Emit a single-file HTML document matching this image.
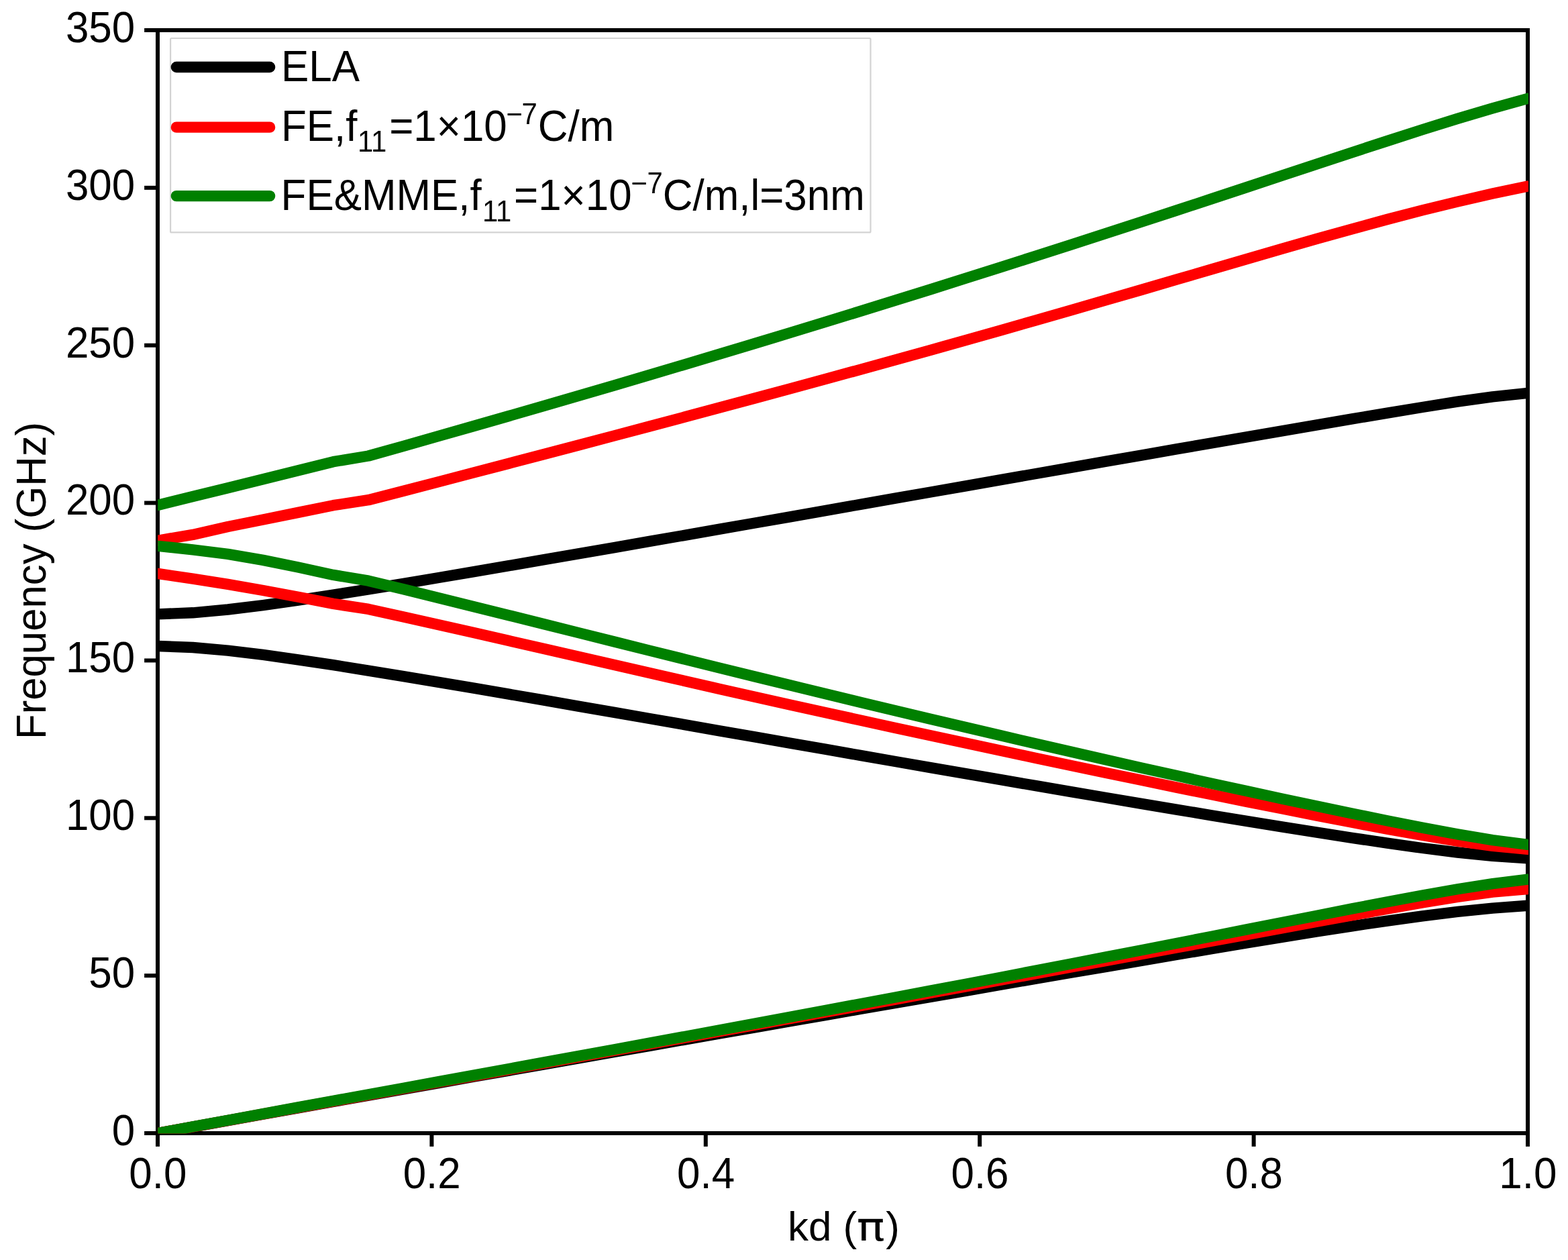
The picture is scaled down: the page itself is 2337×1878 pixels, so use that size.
<!DOCTYPE html>
<html lang="en"><head><meta charset="utf-8"><title>Dispersion curves: frequency versus kd</title>
<style>html,body{margin:0;padding:0;background:#fff;}body{width:2337px;height:1878px;overflow:hidden;}svg{display:block;}text{font-family:'Liberation Sans', Arial, Helvetica, sans-serif;fill:#000;}</style>
</head><body>
<svg width="2337" height="1878" viewBox="0 0 2337 1878">
<rect width="2337" height="1878" fill="#ffffff"/>
<defs><clipPath id="ax"><rect x="235.2" y="45" width="2042.8" height="1644.4"/></clipPath></defs>
<g stroke="#000" stroke-width="6" fill="none">
<line x1="235.00" y1="1689" x2="235.00" y2="1708.9"/>
<line x1="643.40" y1="1689" x2="643.40" y2="1708.9"/>
<line x1="1051.80" y1="1689" x2="1051.80" y2="1708.9"/>
<line x1="1460.20" y1="1689" x2="1460.20" y2="1708.9"/>
<line x1="1868.60" y1="1689" x2="1868.60" y2="1708.9"/>
<line x1="2277.00" y1="1689" x2="2277.00" y2="1708.9"/>
<line x1="215.1" y1="1689.00" x2="235" y2="1689.00"/>
<line x1="215.1" y1="1454.14" x2="235" y2="1454.14"/>
<line x1="215.1" y1="1219.29" x2="235" y2="1219.29"/>
<line x1="215.1" y1="984.43" x2="235" y2="984.43"/>
<line x1="215.1" y1="749.57" x2="235" y2="749.57"/>
<line x1="215.1" y1="514.71" x2="235" y2="514.71"/>
<line x1="215.1" y1="279.86" x2="235" y2="279.86"/>
<line x1="215.1" y1="45.00" x2="235" y2="45.00"/>
<rect x="235" y="45" width="2042" height="1644"/>
</g>
<g clip-path="url(#ax)" fill="none" stroke-width="16.4" stroke-linejoin="round" stroke-linecap="round">
<path stroke="#000000" d="M235.0 1689.0 L287.4 1679.6 L339.7 1670.1 L392.1 1660.7 L444.4 1651.4 L496.8 1642.0 L549.2 1632.7 L601.5 1623.4 L653.9 1614.1 L706.2 1604.8 L758.6 1595.6 L810.9 1586.4 L863.3 1577.1 L915.7 1567.9 L968.0 1558.8 L1020.4 1549.6 L1072.7 1540.4 L1125.1 1531.3 L1177.5 1522.2 L1229.8 1513.1 L1282.2 1504.0 L1334.5 1494.9 L1386.9 1485.8 L1439.3 1476.8 L1491.6 1467.7 L1544.0 1458.7 L1596.3 1449.7 L1648.7 1440.8 L1701.1 1431.8 L1753.4 1423.0 L1805.8 1414.2 L1858.1 1405.5 L1910.5 1396.9 L1962.8 1388.5 L2015.2 1380.3 L2067.6 1372.6 L2119.9 1365.3 L2172.3 1358.9 L2224.6 1353.6 L2277.0 1349.8"/>
<path stroke="#000000" d="M235.0 963.0 L287.4 965.0 L339.7 969.6 L392.1 975.9 L444.4 983.3 L496.8 991.2 L549.2 999.6 L601.5 1008.1 L653.9 1016.9 L706.2 1025.7 L758.6 1034.7 L810.9 1043.7 L863.3 1052.8 L915.7 1061.9 L968.0 1071.0 L1020.4 1080.1 L1072.7 1089.3 L1125.1 1098.4 L1177.5 1107.6 L1229.8 1116.7 L1282.2 1125.9 L1334.5 1135.0 L1386.9 1144.1 L1439.3 1153.1 L1491.6 1162.2 L1544.0 1171.2 L1596.3 1180.1 L1648.7 1189.0 L1701.1 1197.9 L1753.4 1206.6 L1805.8 1215.3 L1858.1 1223.9 L1910.5 1232.4 L1962.8 1240.7 L2015.2 1248.8 L2067.6 1256.6 L2119.9 1264.0 L2172.3 1270.5 L2224.6 1275.9 L2277.0 1279.4"/>
<path stroke="#000000" d="M235.0 915.4 L287.4 913.3 L339.7 908.5 L392.1 902.1 L444.4 894.7 L496.8 886.7 L549.2 878.4 L601.5 869.8 L653.9 861.0 L706.2 852.2 L758.6 843.2 L810.9 834.2 L863.3 825.2 L915.7 816.1 L968.0 806.9 L1020.4 797.8 L1072.7 788.6 L1125.1 779.5 L1177.5 770.3 L1229.8 761.1 L1282.2 751.9 L1334.5 742.7 L1386.9 733.5 L1439.3 724.3 L1491.6 715.2 L1544.0 706.0 L1596.3 696.8 L1648.7 687.7 L1701.1 678.6 L1753.4 669.4 L1805.8 660.4 L1858.1 651.3 L1910.5 642.3 L1962.8 633.3 L2015.2 624.4 L2067.6 615.6 L2119.9 607.0 L2172.3 598.7 L2224.6 591.3 L2277.0 585.8"/>
<path stroke="#ff0000" d="M235.0 1689.0 L287.4 1679.5 L339.7 1670.0 L392.1 1660.4 L444.4 1650.9 L496.8 1641.4 L549.2 1632.0 L601.5 1622.5 L653.9 1613.0 L706.2 1603.6 L758.6 1594.1 L810.9 1584.6 L863.3 1575.2 L915.7 1565.7 L968.0 1556.2 L1020.4 1546.7 L1072.7 1537.2 L1125.1 1527.7 L1177.5 1518.2 L1229.8 1508.7 L1282.2 1499.2 L1334.5 1489.6 L1386.9 1480.0 L1439.3 1470.4 L1491.6 1460.8 L1544.0 1451.2 L1596.3 1441.5 L1648.7 1431.9 L1701.1 1422.2 L1753.4 1412.5 L1805.8 1402.8 L1858.1 1393.1 L1910.5 1383.4 L1962.8 1373.7 L2015.2 1364.1 L2067.6 1354.7 L2119.9 1345.5 L2172.3 1337.0 L2224.6 1329.7 L2277.0 1325.1"/>
<path stroke="#ff0000" d="M235.0 854.9 L287.4 862.6 L339.7 870.9 L392.1 880.0 L444.4 889.7 L496.8 899.9 L549.2 907.9 L601.5 919.5 L653.9 931.2 L706.2 943.1 L758.6 955.1 L810.9 967.1 L863.3 979.1 L915.7 991.1 L968.0 1003.1 L1020.4 1015.0 L1072.7 1026.9 L1125.1 1038.7 L1177.5 1050.4 L1229.8 1062.0 L1282.2 1073.5 L1334.5 1085.0 L1386.9 1096.3 L1439.3 1107.6 L1491.6 1118.8 L1544.0 1129.9 L1596.3 1140.9 L1648.7 1151.9 L1701.1 1162.8 L1753.4 1173.6 L1805.8 1184.3 L1858.1 1194.9 L1910.5 1205.3 L1962.8 1215.7 L2015.2 1225.8 L2067.6 1235.6 L2119.9 1245.0 L2172.3 1253.6 L2224.6 1260.8 L2277.0 1265.9"/>
<path stroke="#ff0000" d="M235.0 805.7 L287.4 796.9 L339.7 785.0 L392.1 774.5 L444.4 763.9 L496.8 753.2 L549.2 745.2 L601.5 731.7 L653.9 718.1 L706.2 704.4 L758.6 690.7 L810.9 677.0 L863.3 663.2 L915.7 649.4 L968.0 635.5 L1020.4 621.5 L1072.7 607.5 L1125.1 593.5 L1177.5 579.3 L1229.8 565.1 L1282.2 550.8 L1334.5 536.3 L1386.9 521.8 L1439.3 507.1 L1491.6 492.3 L1544.0 477.4 L1596.3 462.3 L1648.7 447.2 L1701.1 432.0 L1753.4 416.7 L1805.8 401.4 L1858.1 386.1 L1910.5 370.9 L1962.8 355.9 L2015.2 341.3 L2067.6 327.0 L2119.9 313.4 L2172.3 300.6 L2224.6 288.6 L2277.0 277.6"/>
<path stroke="#008000" d="M235.0 1689.0 L287.4 1679.3 L339.7 1669.7 L392.1 1660.1 L444.4 1650.4 L496.8 1640.8 L549.2 1631.3 L601.5 1621.7 L653.9 1612.1 L706.2 1602.6 L758.6 1593.0 L810.9 1583.4 L863.3 1573.8 L915.7 1564.2 L968.0 1554.6 L1020.4 1545.0 L1072.7 1535.3 L1125.1 1525.6 L1177.5 1515.9 L1229.8 1506.1 L1282.2 1496.3 L1334.5 1486.5 L1386.9 1476.6 L1439.3 1466.7 L1491.6 1456.7 L1544.0 1446.6 L1596.3 1436.5 L1648.7 1426.4 L1701.1 1416.2 L1753.4 1406.0 L1805.8 1395.7 L1858.1 1385.4 L1910.5 1375.0 L1962.8 1364.7 L2015.2 1354.4 L2067.6 1344.3 L2119.9 1334.5 L2172.3 1325.2 L2224.6 1317.1 L2277.0 1310.6"/>
<path stroke="#008000" d="M235.0 813.8 L287.4 819.3 L339.7 825.8 L392.1 834.9 L444.4 845.5 L496.8 856.9 L549.2 865.7 L601.5 878.3 L653.9 891.2 L706.2 904.2 L758.6 917.2 L810.9 930.3 L863.3 943.4 L915.7 956.5 L968.0 969.6 L1020.4 982.6 L1072.7 995.6 L1125.1 1008.5 L1177.5 1021.3 L1229.8 1034.0 L1282.2 1046.7 L1334.5 1059.2 L1386.9 1071.7 L1439.3 1084.1 L1491.6 1096.3 L1544.0 1108.5 L1596.3 1120.6 L1648.7 1132.5 L1701.1 1144.4 L1753.4 1156.1 L1805.8 1167.7 L1858.1 1179.1 L1910.5 1190.4 L1962.8 1201.6 L2015.2 1212.5 L2067.6 1223.3 L2119.9 1233.6 L2172.3 1243.4 L2224.6 1252.1 L2277.0 1258.9"/>
<path stroke="#008000" d="M235.0 753.0 L287.4 740.0 L339.7 727.2 L392.1 714.3 L444.4 701.3 L496.8 688.2 L549.2 679.5 L601.5 664.8 L653.9 649.9 L706.2 635.0 L758.6 620.0 L810.9 604.9 L863.3 589.7 L915.7 574.3 L968.0 558.9 L1020.4 543.3 L1072.7 527.7 L1125.1 511.9 L1177.5 496.0 L1229.8 480.0 L1282.2 463.9 L1334.5 447.7 L1386.9 431.3 L1439.3 414.8 L1491.6 398.2 L1544.0 381.5 L1596.3 364.7 L1648.7 347.8 L1701.1 330.8 L1753.4 313.6 L1805.8 296.4 L1858.1 279.1 L1910.5 261.8 L1962.8 244.5 L2015.2 227.2 L2067.6 210.1 L2119.9 193.2 L2172.3 176.9 L2224.6 161.3 L2277.0 146.8"/>
</g>
<g font-size="61.9px">
<text transform="translate(235.30 1770.90) scale(1 1.04)" text-anchor="middle">0.0</text>
<text transform="translate(643.70 1770.90) scale(1 1.04)" text-anchor="middle">0.2</text>
<text transform="translate(1052.10 1770.90) scale(1 1.04)" text-anchor="middle">0.4</text>
<text transform="translate(1460.50 1770.90) scale(1 1.04)" text-anchor="middle">0.6</text>
<text transform="translate(1868.90 1770.90) scale(1 1.04)" text-anchor="middle">0.8</text>
<text transform="translate(2277.30 1770.90) scale(1 1.04)" text-anchor="middle">1.0</text>
<text transform="translate(201.2 1706.90) scale(1 1.04)" text-anchor="end">0</text>
<text transform="translate(201.2 1472.04) scale(1 1.04)" text-anchor="end">50</text>
<text transform="translate(201.2 1237.19) scale(1 1.04)" text-anchor="end">100</text>
<text transform="translate(201.2 1002.33) scale(1 1.04)" text-anchor="end">150</text>
<text transform="translate(201.2 767.47) scale(1 1.04)" text-anchor="end">200</text>
<text transform="translate(201.2 532.61) scale(1 1.04)" text-anchor="end">250</text>
<text transform="translate(201.2 297.76) scale(1 1.04)" text-anchor="end">300</text>
<text transform="translate(201.2 62.90) scale(1 1.04)" text-anchor="end">350</text>
</g>
<text font-size="62px" x="1173.9" y="1849.0">kd (<tspan font-family="'DejaVu Sans', sans-serif" font-size="58px" dx="-0.4" textLength="42" lengthAdjust="spacingAndGlyphs">π</tspan><tspan x="1320.2">)</tspan></text>
<text font-size="61.7px" transform="translate(68.1 1102) rotate(-90) scale(1 1.02)">Frequency (GHz)</text>
<g>
<rect x="254.1" y="57" width="1043.4" height="289.45" rx="1.5" ry="1.5" fill="#ffffff" fill-opacity="0.8" stroke="#d3d3d3" stroke-width="2.2"/>
<line x1="262.9" y1="100" x2="402.1" y2="100" stroke="#000000" stroke-width="16.4" stroke-linecap="round"/>
<line x1="262.9" y1="189.65" x2="402.1" y2="189.65" stroke="#ff0000" stroke-width="16.4" stroke-linecap="round"/>
<line x1="262.9" y1="292.1" x2="402.1" y2="292.1" stroke="#008000" stroke-width="16.4" stroke-linecap="round"/>
<text font-size="61.9px" transform="translate(419.0 121.4) scale(1 1.04)">ELA</text>
<text font-size="61.9px" transform="translate(0 209.95) scale(1 1.04)"><tspan x="418.9" y="0">FE,f</tspan><tspan x="532.9" y="15.87" font-size="41.9px">11</tspan><tspan x="580.2" y="0">=1×10</tspan><tspan x="754.6" y="-24.33" font-size="41.9px">−</tspan><tspan x="777.6" y="-24.33" font-size="41.9px">7</tspan><tspan x="801.8" y="0">C/m</tspan></text>
<text font-size="61.9px" transform="translate(0 313.3) scale(1 1.04)"><tspan x="418.6" y="0">FE&amp;MME,f</tspan><tspan x="718.9" y="15.87" font-size="41.9px">11</tspan><tspan x="766" y="0">=1×10</tspan><tspan x="940.6" y="-24.33" font-size="41.9px">−</tspan><tspan x="964.6" y="-24.33" font-size="41.9px">7</tspan><tspan x="987.8" y="0">C/m,l=3nm</tspan></text>
</g>
</svg></body></html>
